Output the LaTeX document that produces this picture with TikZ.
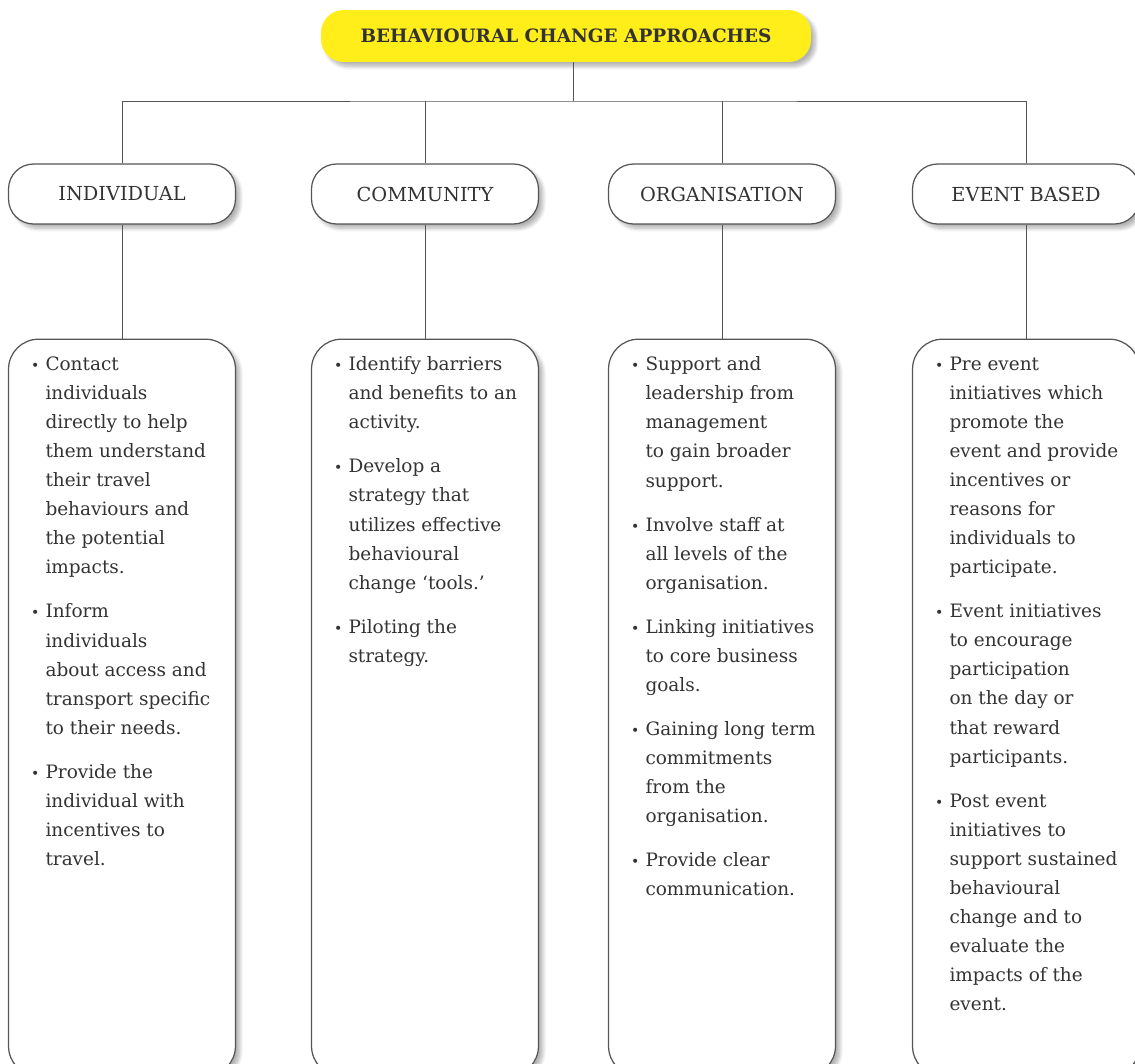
\documentclass[tikz,border=0pt]{standalone}
\usepackage{fontspec}
\setmainfont{DejaVu Serif}
\usepackage{enumitem}
\usetikzlibrary{positioning,shadows.blur}
\definecolor{headfill}{HTML}{FFEE1A}
\definecolor{ink}{HTML}{333333}
\definecolor{rule}{HTML}{555555}

% one column of bullet points, fixed height so the box runs off the page
\newcommand{\pointlist}[1]{%
  \begin{minipage}[t][14.04cm][t]{3.75cm}
    \fontsize{10.5}{16.55}\selectfont\raggedright
    \begin{itemize}[leftmargin=0.345cm,labelsep=0.12cm,
        label={\footnotesize\textbullet},nosep,itemsep=8.5pt]
      #1
    \end{itemize}
  \end{minipage}}

\begin{document}
\begin{tikzpicture}[
  x=0.02cm, y=-0.02cm,
  node distance=2.28cm,
  soft/.style={
    blur shadow={shadow xshift=2.5pt,shadow yshift=-2.5pt,
      shadow opacity=30,shadow blur steps=8}
  },
  headline/.style={
    soft,
    fill=headfill,
    rounded corners=0.45cm,
    minimum width=9.8cm,
    minimum height=1.04cm,
    text=ink,
    font=\bfseries\fontsize{10.5}{12}\selectfont
  },
  group/.style={
    soft,
    draw=rule,
    fill=white,
    line width=0.7pt,
    rounded corners=0.5cm,
    minimum width=4.54cm,
    minimum height=1.2cm,
    text=ink,
    font=\fontsize{11}{14}\selectfont
  },
  detail/.style={
    soft,
    draw=rule,
    fill=white,
    line width=0.7pt,
    rounded corners=0.6cm,
    minimum width=4.54cm,
    inner ysep=0.35cm,
    anchor=north,
    text=ink
  },
  link/.style={draw=rule,line width=0.55pt}
]
  \useasboundingbox (0,0) rectangle (1135,1064);

  \node[headline] (title) at (566,36) {BEHAVIOURAL CHANGE APPROACHES};
  \coordinate (bar) at (573,101);

  \node[group] (ind) at (122,194) {INDIVIDUAL};
  \node[group] (com) at (425,194) {COMMUNITY};
  \node[group] (org) at (722,194) {ORGANISATION};
  \node[group] (evt) at (1026,194) {EVENT BASED};

  \node[detail,below=of ind] (indtxt) {\pointlist{%
    \item Contact\\individuals\\directly to help\\them understand\\their travel\\behaviours and\\the potential\\impacts.
    \item Inform\\individuals\\about access and\\transport specific\\to their needs.
    \item Provide the\\individual with\\incentives to\\travel.}};

  \node[detail,below=of com] (comtxt) {\pointlist{%
    \item Identify barriers\\and benefits to an\\activity.
    \item Develop a\\strategy that\\utilizes effective\\behavioural\\change ‘tools.’
    \item Piloting the\\strategy.}};

  \node[detail,below=of org] (orgtxt) {\pointlist{%
    \item Support and\\leadership from\\management\\to gain broader\\support.
    \item Involve staff at\\all levels of the\\organisation.
    \item Linking initiatives\\to core business\\goals.
    \item Gaining long term\\commitments\\from the\\organisation.
    \item Provide clear\\communication.}};

  \node[detail,below=of evt] (evttxt) {\pointlist{%
    \item Pre event\\initiatives which\\promote the\\event and provide\\incentives or\\reasons for\\individuals to\\participate.
    \item Event initiatives\\to encourage\\participation\\on the day or\\that reward\\participants.
    \item Post event\\initiatives to\\support sustained\\behavioural\\change and to\\evaluate the\\impacts of the\\event.}};

  \draw[link] (bar |- title.south) -- (bar);
  \draw[link] (ind.north) |- (bar) -| (evt.north);
  \draw[link] (com.north) -- (com.north |- bar);
  \draw[link] (org.north) -- (org.north |- bar);

  \draw[link] (ind) -- (indtxt);
  \draw[link] (com) -- (comtxt);
  \draw[link] (org) -- (orgtxt);
  \draw[link] (evt) -- (evttxt);

\end{tikzpicture}
\end{document}
